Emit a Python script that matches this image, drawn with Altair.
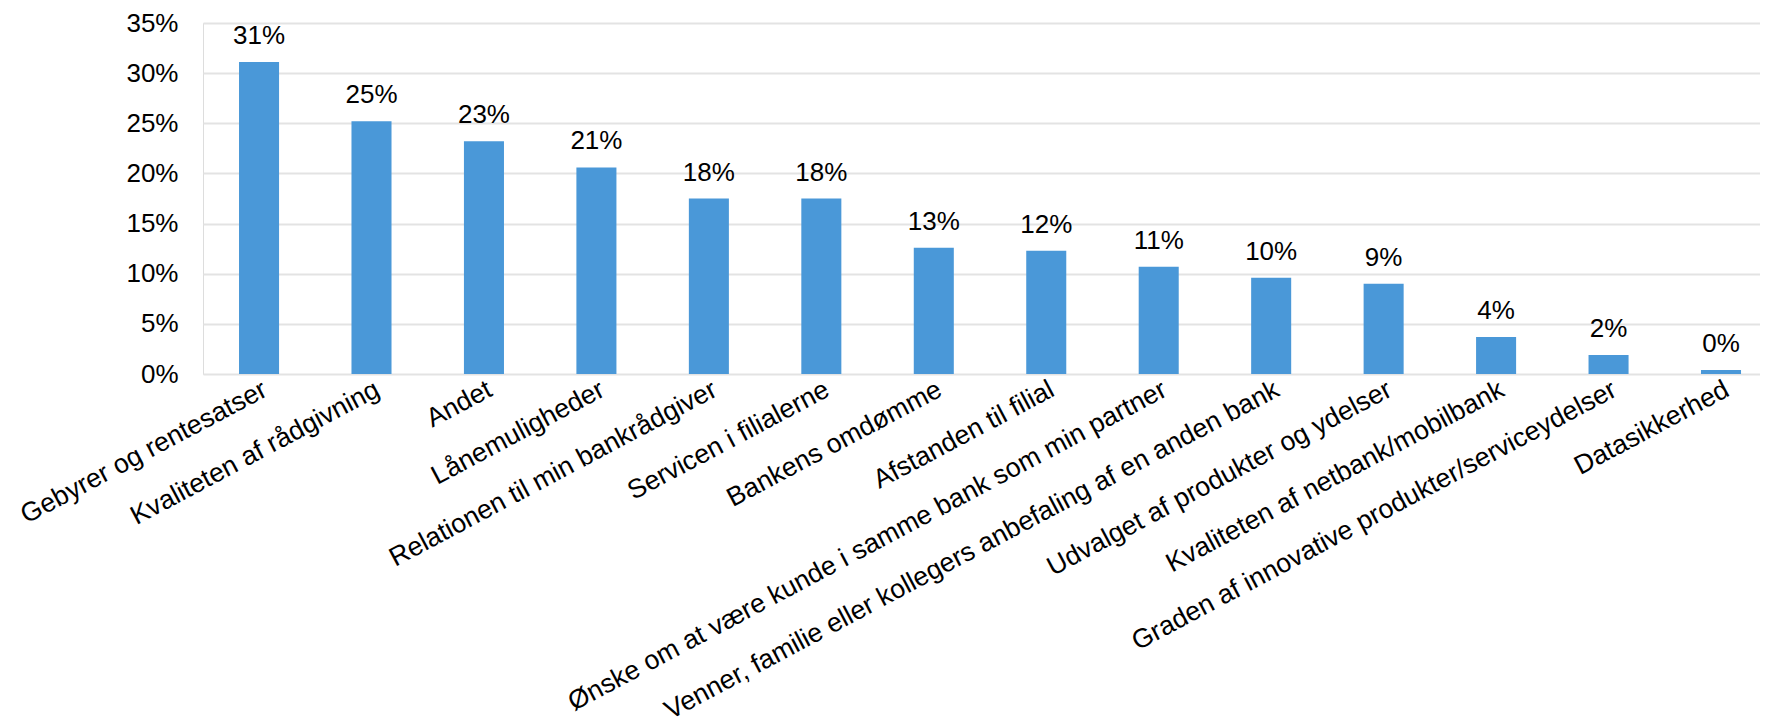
import altair as alt
import pandas as pd

categories = [
    "Gebyrer og rentesatser",
    "Kvaliteten af rådgivning",
    "Andet",
    "Lånemuligheder",
    "Relationen til min bankrådgiver",
    "Servicen i filialerne",
    "Bankens omdømme",
    "Afstanden til filial",
    "Ønske om at være kunde i samme bank som min partner",
    "Venner, familie eller kollegers anbefaling af en anden bank",
    "Udvalget af produkter og ydelser",
    "Kvaliteten af netbank/mobilbank",
    "Graden af innovative produkter/serviceydelser",
    "Datasikkerhed",
]
values = [0.311, 0.252, 0.232, 0.206, 0.175, 0.175, 0.126, 0.123,
          0.107, 0.096, 0.090, 0.037, 0.019, 0.004]
y_ticks = [0, 0.05, 0.10, 0.15, 0.20, 0.25, 0.30, 0.35]

df = pd.DataFrame({"kategori": categories, "andel": values})

FONT = "Liberation Sans"
BAR = "#4A98D8"

x = alt.X(
    "kategori:N",
    sort=categories,
    title=None,
    scale=alt.Scale(paddingInner=0.644, paddingOuter=0.2445, align=0.655),
    axis=alt.Axis(
        labelAngle=-28,
        labelAlign="right",
        labelBaseline="top",
        labelPadding=2,
        labelFontSize=26.7,
        labelFont=FONT,
        labelColor="#000000",
        labelLimit=0,
        labelOverlap=False,
        ticks=False,
        domain=False,
        grid=False,
    ),
)
y = alt.Y(
    "andel:Q",
    title=None,
    scale=alt.Scale(domain=[0, 0.35], nice=False),
    axis=alt.Axis(
        values=y_ticks,
        format=".0%",
        labelFontSize=26,
        labelFont=FONT,
        labelColor="#000000",
        labelPadding=25,
        ticks=False,
        domain=False,
        grid=True,
        gridColor="#e3e3e3",
        gridWidth=2,
    ),
)

bars = alt.Chart(df).mark_bar(color=BAR).encode(x=x, y=y)
labels = alt.Chart(df).mark_text(
    baseline="alphabetic", dy=-18, fontSize=26, font=FONT, color="#000000"
).encode(x=x, y=y, text=alt.Text("andel:Q", format=".0%"))

chart = (
    alt.layer(bars, labels)
    .properties(
        width=1557,
        height=351,
        autosize=alt.AutoSizeParams(type="none"),
        padding={"left": 195, "top": 15, "right": 0, "bottom": 366},
    )
    .configure_view(stroke=None)
    .configure(background="white")
)

chart.save("out.html", embed_options={"renderer": "svg", "actions": False})
